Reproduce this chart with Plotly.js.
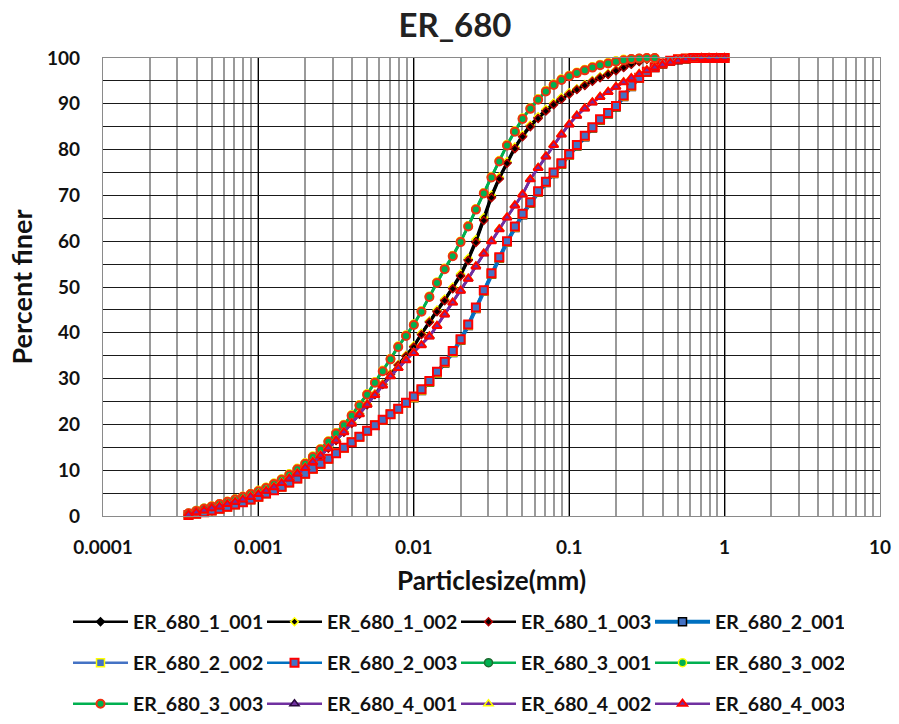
<!DOCTYPE html>
<html>
<head>
<meta charset="utf-8">
<script src="https://cdn.plot.ly/plotly-3.0.1.min.js"></script>
<style>
  html, body { margin: 0; padding: 0; background: #fff; }
  #chart { width: 899px; height: 724px; }
</style>
</head>
<body>
<div id="chart"></div>
<script>
// Particle sizes (mm), common instrument bins
const sizes = [0.000355,0.000398,0.000447,0.000501,0.000562,0.000631,0.000708,0.000794,0.000891,0.001,
  0.00112,0.00126,0.00141,0.00158,0.00178,0.002,0.00224,0.00251,0.00282,0.00316,
  0.00355,0.00398,0.00447,0.00501,0.00562,0.00631,0.00708,0.00794,0.00891,0.01,
  0.0112,0.0126,0.0141,0.0158,0.0178,0.02,0.0224,0.0251,0.0282,0.0316,
  0.0355,0.0398,0.0447,0.0501,0.0562,0.0631,0.0708,0.0794,0.0891,0.1,
  0.112,0.126,0.141,0.158,0.178,0.2,0.224,0.251,0.282,0.316,
  0.355,0.398,0.447,0.501,0.562,0.631,0.708,0.794,0.891,1];

// Percent finer per sample
const er680_1_001 = [0.4,0.9,1.3,1.8,2.2,2.7,3.2,3.7,4.3,4.9,5.6,6.4,7.3,8.3,9.4,10.6,11.9,13.3,14.9,16.6,18.4,20.3,22.3,24.4,26.6,28.8,31.0,33.0,35.0,37.0,
  39.8,42.5,44.8,47.2,49.8,52.6,56.0,60.0,64.8,69.8,73.8,77.2,80.4,83.0,85.2,87.0,88.6,90.0,91.2,92.3,93.2,94.1,95.0,95.8,96.5,97.3,98.0,98.7,99.3,99.7,100];
const er680_1_002 = [0.4,0.9,1.4,1.8,2.3,2.8,3.3,3.8,4.4,5.0,5.7,6.5,7.4,8.4,9.5,10.7,12.0,13.4,15.0,16.7,18.5,20.4,22.4,24.5,26.7,28.9,31.1,33.1,35.1,37.2,
  39.9,42.6,45.0,47.4,50.0,52.9,56.3,60.4,65.2,70.1,74.0,77.4,80.6,83.2,85.4,87.2,88.8,90.2,91.4,92.4,93.3,94.2,95.1,95.9,96.6,97.4,98.1,98.8,99.4,99.8,100];
const er680_1_003 = [0.3,0.8,1.3,1.7,2.2,2.7,3.1,3.6,4.2,4.8,5.5,6.3,7.2,8.2,9.3,10.5,11.8,13.2,14.8,16.5,18.3,20.2,22.2,24.3,26.5,28.7,30.9,32.9,34.9,36.9,
  39.6,42.3,44.6,47.0,49.6,52.4,55.8,59.7,64.5,69.5,73.6,77.0,80.2,82.8,85.0,86.8,88.4,89.8,91.0,92.1,93.1,94.0,94.9,95.7,96.4,97.2,97.9,98.6,99.2,99.7,100];

const er680_2_001 = [0.2,0.5,0.8,1.2,1.6,2.0,2.5,3.0,3.6,4.2,4.9,5.6,6.4,7.3,8.2,9.2,10.3,11.4,12.5,13.7,14.9,16.1,17.3,18.6,19.8,21.0,22.2,23.4,24.6,25.8,
  27.4,29.2,31.2,33.4,35.7,38.4,41.6,45.3,49.1,52.8,56.3,59.8,63.0,65.8,68.3,70.7,72.8,74.8,76.8,78.8,80.8,82.8,84.7,86.4,87.8,89.3,91.6,93.8,95.6,96.9,97.9,98.7,99.3,99.6,99.8,100,100,100,100,100];
const er680_2_002 = [0.2,0.5,0.8,1.2,1.6,2.0,2.5,3.0,3.6,4.2,4.9,5.6,6.4,7.3,8.2,9.2,10.3,11.4,12.5,13.7,14.9,16.1,17.3,18.6,19.8,21.0,22.2,23.4,24.6,25.9,
  27.5,29.3,31.3,33.5,35.8,38.5,41.7,45.4,49.2,52.9,56.4,59.9,63.1,65.9,68.4,70.8,72.9,74.9,76.9,78.9,80.9,82.9,84.8,86.5,87.9,89.4,91.7,93.9,95.7,97.0,98.0,98.8,99.4,99.7,99.9,100,100,100,100,100];
const er680_2_003 = [0.2,0.5,0.8,1.2,1.6,2.0,2.5,3.0,3.6,4.2,4.9,5.6,6.4,7.3,8.2,9.2,10.3,11.4,12.5,13.7,14.9,16.1,17.3,18.6,19.8,21.0,22.2,23.4,24.7,26.1,
  27.7,29.5,31.5,33.7,36.0,38.6,41.8,45.5,49.3,53.0,56.5,60.0,63.2,66.0,68.5,70.9,73.0,75.0,77.0,79.0,81.0,83.0,84.9,86.6,88.0,89.5,91.8,94.0,95.7,97.0,98.0,98.8,99.4,99.7,99.9,100,100,100,100,100];

const er680_3_001 = [0.6,1.2,1.7,2.1,2.6,3.1,3.7,4.2,4.8,5.5,6.2,7.1,8.0,9.1,10.3,11.5,13.0,14.6,16.3,18.1,19.9,22.0,24.2,26.6,29.2,31.7,34.3,37.0,39.4,41.8,
  44.7,47.9,51.0,54.0,56.8,59.9,63.3,67.0,70.5,74.0,77.5,81.0,84.0,86.8,89.0,91.0,92.8,94.2,95.3,96.1,96.8,97.4,98.0,98.5,98.9,99.3,99.6,99.8,99.9,100,100];
const er680_3_002 = [0.6,1.2,1.7,2.2,2.7,3.2,3.7,4.3,4.9,5.6,6.3,7.2,8.1,9.2,10.4,11.6,13.1,14.7,16.4,18.2,20.0,22.1,24.3,26.7,29.3,31.8,34.4,37.1,39.5,41.9,
  44.8,48.0,51.1,54.1,56.9,60.0,63.4,67.1,70.6,74.1,77.6,81.1,84.1,86.9,89.1,91.1,92.9,94.3,95.4,96.2,96.9,97.5,98.1,98.6,99.0,99.4,99.7,99.8,99.9,100,100];
const er680_3_003 = [0.6,1.1,1.6,2.1,2.6,3.1,3.6,4.2,4.8,5.4,6.1,7.0,7.9,9.0,10.2,11.4,12.9,14.5,16.2,18.0,19.8,21.9,24.1,26.5,29.1,31.6,34.2,36.9,39.3,41.7,
  44.6,47.8,50.9,53.9,56.7,59.8,63.2,66.9,70.4,73.9,77.4,80.9,83.9,86.7,88.9,90.9,92.7,94.1,95.2,96.0,96.7,97.3,97.9,98.4,98.8,99.2,99.5,99.8,99.9,100,100];

const er680_4_001 = [0.3,0.8,1.2,1.7,2.1,2.6,3.1,3.6,4.2,4.8,5.5,6.3,7.2,8.2,9.3,10.5,11.8,13.2,14.8,16.5,18.3,20.2,22.2,24.3,26.4,28.5,30.5,32.3,34.0,35.6,
  37.3,39.2,41.5,44.0,46.6,49.2,51.8,54.5,57.3,60.0,62.6,65.2,67.8,70.2,73.5,76.0,78.5,81.0,83.3,85.5,87.4,89.0,90.3,91.5,92.6,93.7,94.7,95.6,96.5,97.3,97.9,98.5,99.0,99.4,99.7,99.9,100,100,100,100];
const er680_4_002 = [0.3,0.8,1.2,1.7,2.2,2.7,3.2,3.7,4.3,4.9,5.6,6.4,7.3,8.3,9.4,10.6,11.9,13.3,14.9,16.6,18.4,20.3,22.3,24.4,26.5,28.6,30.6,32.4,34.1,35.7,
  37.4,39.3,41.6,44.1,46.7,49.3,51.9,54.6,57.4,60.1,62.7,65.3,67.9,70.3,73.6,76.1,78.6,81.1,83.4,85.6,87.5,89.1,90.4,91.6,92.7,93.8,94.8,95.7,96.6,97.4,98.0,98.6,99.1,99.5,99.8,99.9,100,100,100,100];
const er680_4_003 = [0.3,0.8,1.2,1.7,2.1,2.6,3.1,3.6,4.2,4.8,5.5,6.3,7.2,8.2,9.3,10.5,11.8,13.2,14.8,16.5,18.3,20.2,22.2,24.3,26.4,28.5,30.5,32.3,34.0,35.6,
  37.3,39.2,41.5,44.0,46.6,49.2,51.8,54.5,57.3,60.0,62.6,65.2,67.8,70.2,73.5,76.0,78.5,81.0,83.3,85.5,87.4,89.0,90.3,91.5,92.6,93.7,94.7,95.6,96.5,97.3,97.9,98.5,99.0,99.4,99.7,99.9,100,100,100,100];

const seriesNames = ['ER_680_1_001','ER_680_1_002','ER_680_1_003','ER_680_2_001','ER_680_2_002','ER_680_2_003',
  'ER_680_3_001','ER_680_3_002','ER_680_3_003','ER_680_4_001','ER_680_4_002','ER_680_4_003'];
const seriesValues = [er680_1_001,er680_1_002,er680_1_003,er680_2_001,er680_2_002,er680_2_003,
  er680_3_001,er680_3_002,er680_3_003,er680_4_001,er680_4_002,er680_4_003];

// styles
const lineColors = ['#000000','#000000','#000000','#0070C0','#4472C4','#0070C0','#00B050','#00B050','#00B050','#7030A0','#7030A0','#7030A0'];
const lineWidths = [2.5,2.5,2.5,4,2.5,2.5,2.5,2.5,2.5,2.5,2.5,2.5];
const symbols = ['diamond','diamond','diamond','square','square','square','circle','circle','circle','triangle-up','triangle-up','triangle-up'];
const markerSizes = [6,6,6,8,8,8,8,8,8,8,8,8];
const fillColors = ['#000000','#000000','#000000','#4472C4','#4472C4','#4472C4','#00B050','#00B050','#00B050','#7030A0','#7030A0','#7030A0'];
const edgeColors = ['#000000','#FFFF00','#B00000','#000000','#FFFF00','#FF0000','#1E6B30','#FFFF00','#F03010','#2a0a40','#FFFF00','#FF0000'];
const edgeWidths = [1.5,1.5,1.5,1.5,1.5,2,1.5,1.5,2,1.5,1.5,2];
const legendIds = ['legend','legend','legend','legend','legend2','legend2','legend2','legend2','legend3','legend3','legend3','legend3'];

const FONT = 'Lato, "Open Sans", sans-serif';

const traces = seriesNames.map((name, i) => ({
  type: 'scatter',
  mode: 'lines+markers',
  name: name,
  x: sizes.slice(0, seriesValues[i].length),
  y: seriesValues[i],
  line: {color: lineColors[i], width: lineWidths[i]},
  marker: {symbol: symbols[i], size: markerSizes[i], color: fillColors[i], line: {color: edgeColors[i], width: edgeWidths[i]}},
  cliponaxis: false,
  legend: legendIds[i]
}));

const legendBase = {
  orientation: 'h',
  xref: 'container', yref: 'container',
  x: 68/899, xanchor: 'left', yanchor: 'middle',
  entrywidth: 124, entrywidthmode: 'pixels',
  itemwidth: 55,
  font: {family: FONT, size: 19.5, color: '#111', weight: 'bold'},
  bgcolor: 'rgba(0,0,0,0)', borderwidth: 0
};

const layout = {
  width: 899, height: 724,
  paper_bgcolor: '#ffffff', plot_bgcolor: '#ffffff',
  margin: {l: 103, r: 19, t: 58, b: 208},
  title: {text: 'ER_680', x: 455/899, xref: 'container', xanchor: 'center', y: 1 - 25/724, yref: 'container', yanchor: 'middle', font: {family: FONT, size: 33, color: '#222', weight: 'bold'}},
  xaxis: {
    type: 'log', range: [-4, 1],
    tickvals: [0.0001, 0.001, 0.01, 0.1, 1, 10],
    ticktext: ['0.0001', '0.001', '0.01', '0.1', '1', '10'],
    ticks: '', ticklabelstandoff: 14,
    showgrid: true, gridcolor: '#000000', gridwidth: 1.4,
    minor: {dtick: 'D1', showgrid: true, gridcolor: '#9a9a9a', gridwidth: 1.6, ticks: ''},
    showline: true, linecolor: '#8a8a8a', linewidth: 1.4, mirror: true,
    zeroline: false,
    tickfont: {family: FONT, size: 19, color: '#111', weight: 'bold'},
    title: {text: 'Particlesize(mm)', standoff: 14, font: {family: FONT, size: 26, color: '#111', weight: 'bold'}}
  },
  yaxis: {
    range: [0, 100], dtick: 10,
    ticks: '', ticklabelstandoff: 18,
    showgrid: true, gridcolor: '#1a1a1a', gridwidth: 1.4,
    minor: {dtick: 5, showgrid: true, gridcolor: '#1a1a1a', gridwidth: 1.4, ticks: ''},
    showline: true, linecolor: '#8a8a8a', linewidth: 1.4, mirror: true,
    zeroline: false,
    tickfont: {family: FONT, size: 19, color: '#111', weight: 'bold'},
    title: {text: 'Percent finer', standoff: 6, font: {family: FONT, size: 27, color: '#111', weight: 'bold'}}
  },
  legend: Object.assign({}, legendBase, {y: 1 - 622/724}),
  legend2: Object.assign({}, legendBase, {y: 1 - 663/724}),
  legend3: Object.assign({}, legendBase, {y: 1 - 704/724}),
  showlegend: true
};

Plotly.newPlot('chart', traces, layout, {displayModeBar: false, responsive: false});
</script>
</body>
</html>
